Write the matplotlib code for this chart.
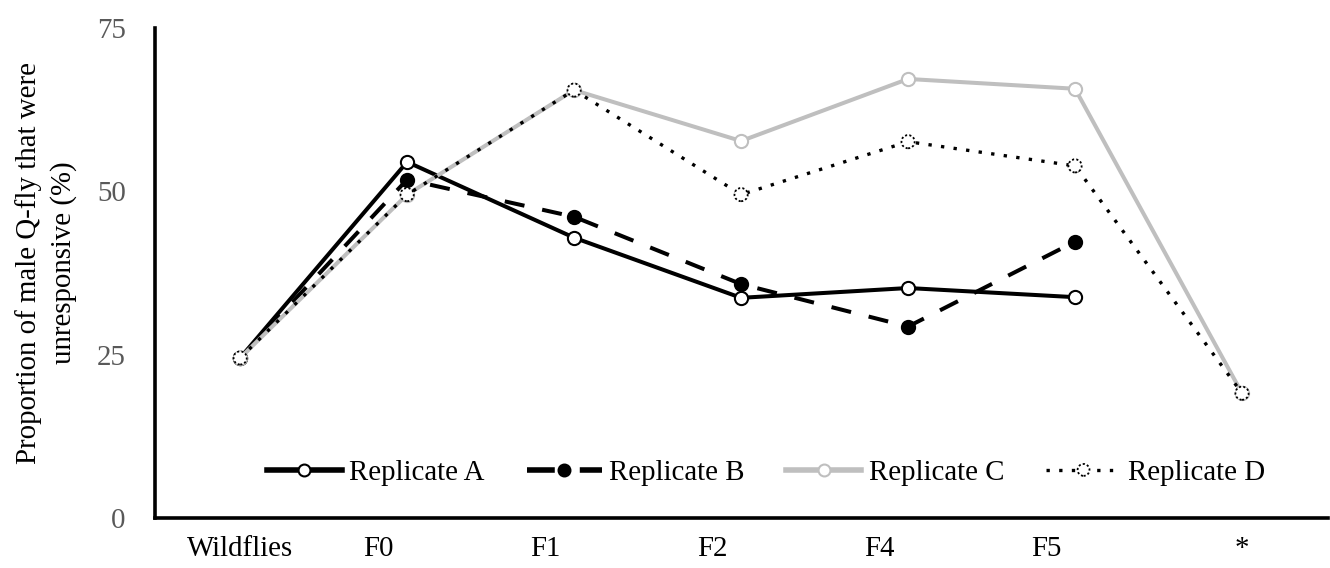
import matplotlib
matplotlib.use("Agg")
import matplotlib.pyplot as plt
import numpy as np
from matplotlib.legend_handler import HandlerTuple

categories = ["Wildflies", "F0", "F1", "F2", "F4", "F5", "*"]
rep_a = [24.5, 54.5, 42.9, 33.7, 35.2, 33.8, np.nan]
rep_b = [24.5, 51.8, 46.1, 35.8, 29.3, 42.3, np.nan]
rep_c = [24.5, 49.5, 65.5, 57.7, 67.2, 65.7, 19.1]
rep_d = [24.5, 49.5, 65.5, 49.5, 57.6, 53.9, 19.1]
yticks = [0, 25, 50, 75]

plt.rcParams['font.family'] = ['Liberation Serif', 'DejaVu Serif']

fig = plt.figure(figsize=(13.3, 5.68), dpi=100)
ax = fig.add_axes([155/1330, 1-518/568, 1173/1330, 490/568])

x = np.arange(len(categories))
gray = '#BFBFBF'
lw = 2.9
ms = 9.5
fs = 20.8

la, = ax.plot(x, rep_a, color='black', lw=lw, marker='o', ms=ms, mfc='white', mec='black', mew=1.5, zorder=3)
lb, = ax.plot(x, rep_b, color='black', lw=lw, ls=(0, (5, 4.5)), marker='o', ms=ms, mfc='black', mec='black', mew=1.5, zorder=4)
lc, = ax.plot(x, rep_c, color=gray, lw=lw, marker='o', ms=ms, mfc='white', mec=gray, mew=1.5, zorder=5)
ld, = ax.plot(x, rep_d, color='black', lw=2.4, ls=(0, (1, 2.8)), zorder=6)
sd = ax.scatter(x, rep_d, s=ms**2, facecolor='white', edgecolor='black', linewidths=1.3, linestyle=(0, (1.2, 1.2)), zorder=7)

ax.set_xlim(-0.51, 6.515)
ax.set_ylim(0, 75)
ax.set_yticks(yticks)
ax.set_yticklabels([str(v) for v in yticks])
label_pos = [0, 0.83, 1.83, 2.83, 3.83, 4.83, 6.0]
ax.set_xticks(label_pos)
ax.set_xticklabels(categories)
ax.tick_params(axis='x', length=0, pad=13, labelsize=fs, labelcolor='black')
ax.tick_params(axis='y', length=0, pad=21, labelsize=fs, labelcolor='#595959')

for s in ['top', 'right']:
    ax.spines[s].set_visible(False)
ax.spines['left'].set_linewidth(2.6)
ax.spines['bottom'].set_linewidth(2.6)

fig.text(46/1330, 1-263/568, "Proportion of male Q-fly that were\nunresponsive (%)",
         rotation=90, ha='center', va='center', multialignment='center', fontsize=fs,
         linespacing=1.35)

leg = ax.legend([la, lb, lc, (ld, sd)], ['Replicate A', 'Replicate B', 'Replicate C', 'Replicate D'],
                handler_map={tuple: HandlerTuple(ndivide=1)},
                loc='center', bbox_to_anchor=(0.521, 0.092), ncol=4, frameon=False,
                fontsize=fs, handlelength=2.6, handletextpad=0.25, columnspacing=1.45,
                markerscale=0.9, scatterpoints=1, scatteryoffsets=[0.5])
for h in leg.legend_handles[:3]:
    h.set_linewidth(4)

fig.savefig('out.png', dpi=100)
